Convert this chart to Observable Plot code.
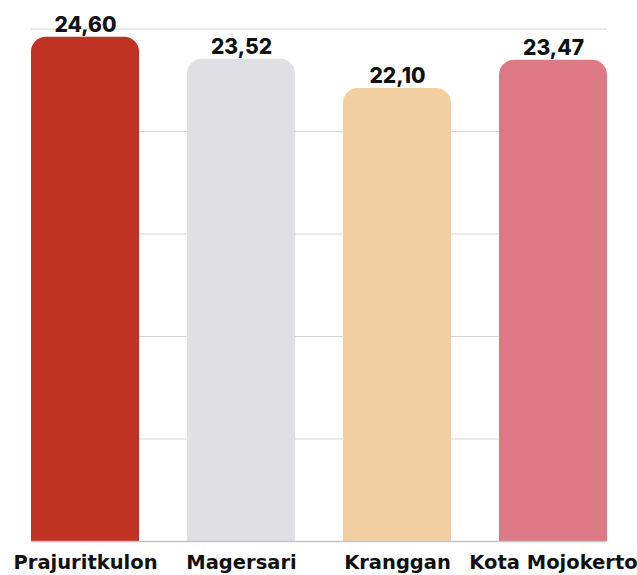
<!DOCTYPE html>
<html>
<head>
<meta charset="utf-8">
<script src="https://cdn.jsdelivr.net/npm/d3@7"></script>
<script src="https://cdn.jsdelivr.net/npm/@observablehq/plot@0.6"></script>
<style>
  html, body { margin: 0; padding: 0; background: #fff; }
  #chart svg { overflow: visible; display: block; }
</style>
</head>
<body>
<div id="chart"></div>
<script>
const categories = ["Prajuritkulon", "Magersari", "Kranggan", "Kota Mojokerto"];
const values = [24.60, 23.52, 22.10, 23.47];
const colors = ["#c03223", "#dfdfe4", "#f2cfa1", "#dc7985"];
const gridTicks = [0, 5, 10, 15, 20, 25];

const data = categories.map((c, i) => ({ category: c, value: values[i], color: colors[i] }));
const fmt = v => v.toFixed(2).replace(".", ",");
const font = "'DejaVu Sans', sans-serif";

const chart = Plot.plot({
  width: 637,
  height: 575,
  marginLeft: 31,
  marginRight: 30,
  marginTop: 28.5,
  marginBottom: 34,
  style: { fontFamily: font, background: "#fff", overflow: "visible" },
  x: { domain: categories, paddingInner: 0.31, paddingOuter: 0, label: null, axis: null },
  y: { domain: [0, 25], label: null, axis: null },
  marks: [
    Plot.ruleY(gridTicks.filter(t => t > 0), { stroke: "#d6d6d6", strokeWidth: 1 }),
    Plot.barY(data, { x: "category", y: "value", fill: "color", rx: 15 }),
    Plot.barY(data, { x: "category", y: d => d.value / 2, fill: "color" }),
    Plot.ruleY([0], { stroke: "#c4c4c4", strokeWidth: 1.5 }),
    Plot.text(data, {
      x: "category", y: "value", text: d => fmt(d.value),
      lineAnchor: "bottom", dy: -5, fontSize: 21, fontWeight: 800, fill: "#111",
      fontFamily: "Inter, 'DejaVu Sans', sans-serif"
    }),
    Plot.axisX({ tickSize: 0, tickPadding: 14, fontSize: 19.5, fontWeight: 700, fill: "#111", label: null }),
  ]
});
document.getElementById("chart").appendChild(chart);
</script>
</body>
</html>
